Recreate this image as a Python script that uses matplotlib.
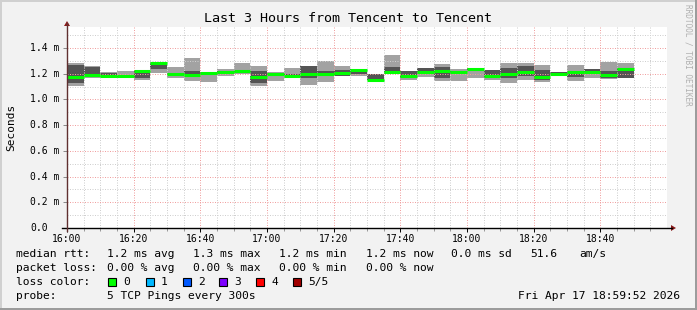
import matplotlib.pyplot as plt
from matplotlib.patches import Rectangle, Polygon
from matplotlib.lines import Line2D

# 5 minute bins, start time of each bin
times = ["16:00", "16:05", "16:10", "16:15", "16:20", "16:25", "16:30", "16:35",
         "16:40", "16:45", "16:50", "16:55", "17:00", "17:05", "17:10", "17:15",
         "17:20", "17:25", "17:30", "17:35", "17:40", "17:45", "17:50", "17:55",
         "18:00", "18:05", "18:10", "18:15", "18:20", "18:25", "18:30", "18:35",
         "18:40", "18:45"]

# median rtt (ms)
median = [1.174, 1.187, 1.184, 1.179, 1.221, 1.283, 1.195, 1.190, 1.205, 1.216,
          1.221, 1.174, 1.195, 1.179, 1.200, 1.195, 1.205, 1.226, 1.148, 1.210,
          1.184, 1.210, 1.221, 1.210, 1.239, 1.179, 1.195, 1.213, 1.174, 1.195,
          1.210, 1.210, 1.190, 1.239]
# smoke: min / max of all pings
smoke_lo = [1.101, 1.169, 1.164, 1.166, 1.148, 1.205, 1.169, 1.143, 1.132, 1.179,
            1.195, 1.101, 1.140, 1.169, 1.112, 1.135, 1.179, 1.184, 1.143, 1.195,
            1.148, 1.174, 1.143, 1.140, 1.164, 1.153, 1.127, 1.148, 1.135, 1.179,
            1.143, 1.164, 1.158, 1.164]
smoke_hi = [1.283, 1.257, 1.210, 1.218, 1.231, 1.288, 1.252, 1.319, 1.210, 1.239,
            1.283, 1.257, 1.210, 1.242, 1.262, 1.296, 1.257, 1.236, 1.195, 1.343,
            1.221, 1.247, 1.273, 1.239, 1.247, 1.231, 1.283, 1.283, 1.265, 1.216,
            1.265, 1.239, 1.288, 1.283]
# inner smoke (2nd to 4th ping)
inner_lo = [1.127, 1.179, 1.179, 1.169, 1.169, 1.234, 1.179, 1.195, 1.200, 1.195,
            1.205, 1.127, 1.184, 1.179, 1.169, 1.184, 1.179, 1.195, 1.153, 1.200,
            1.164, 1.200, 1.164, 1.200, 1.221, 1.164, 1.169, 1.184, 1.153, 1.184,
            1.174, 1.195, 1.169, 1.164]
inner_hi = [1.265, 1.252, 1.205, 1.190, 1.231, 1.283, 1.205, 1.221, 1.210, 1.221,
            1.231, 1.221, 1.205, 1.200, 1.262, 1.221, 1.231, 1.234, 1.195, 1.252,
            1.221, 1.242, 1.252, 1.221, 1.242, 1.226, 1.247, 1.257, 1.226, 1.210,
            1.216, 1.234, 1.221, 1.247]

x_ticks = [0, 20, 40, 60, 80, 100, 120, 140, 160]
x_labels = ["16:00", "16:20", "16:40", "17:00", "17:20", "17:40", "18:00", "18:20", "18:40"]
y_ticks = [0.0, 0.2, 0.4, 0.6, 0.8, 1.0, 1.2, 1.4]
y_labels = ["0.0", "0.2 m", "0.4 m", "0.6 m", "0.8 m", "1.0 m", "1.2 m", "1.4 m"]

loss_labels = ["0", "1", "2", "3", "4", "5/5"]
loss_colors = ["#00ff00", "#00b8ff", "#0059ff", "#7e00ff", "#ff0000", "#a10000"]

W, H = 697, 310
BG = "#f2f2f2"
MONO = "DejaVu Sans Mono"


def px(x, y):
    return x / W, 1 - y / H


def minutes(t):
    h, m = t.split(":")
    return (int(h) - 16) * 60 + int(m)


fig = plt.figure(figsize=(W / 100, H / 100), dpi=100, facecolor=BG)
ax = fig.add_axes([67 / W, 82 / H, 600 / W, 201 / H])
ax.set_facecolor("white")
ax.set_xlim(0, 180)
ax.set_ylim(0, 201 / 128.57)

starts = [minutes(t) for t in times]
outer_h = [h - l for h, l in zip(smoke_hi, smoke_lo)]
inner_h = [h - l for h, l in zip(inner_hi, inner_lo)]
ax.bar(starts, outer_h, bottom=smoke_lo, width=5, align="edge", color="#a2a2a2", zorder=1)
ax.bar(starts, inner_h, bottom=inner_lo, width=5, align="edge", color="#545454", zorder=1.1)
ax.hlines(median, starts, [s + 5 for s in starts], color="#00ff00", lw=2.2, zorder=3)

# grid
for v in range(0, 181, 5):
    c = "#f0a0a0" if v % 20 == 0 else "#cfcfcf"
    ax.axvline(v, color=c, lw=0.72, ls=(0, (1, 1.5)), zorder=2)
for i in range(1, 16):
    v = i * 0.1
    c = "#f0a0a0" if i % 2 == 0 else "#cfcfcf"
    ax.axhline(v, color=c, lw=0.72, ls=(0, (1, 1.5)), zorder=2)

for s in ax.spines.values():
    s.set_visible(False)
ax.set_xticks(x_ticks)
ax.set_xticklabels(x_labels, family=MONO, fontsize=7)
ax.set_xticks(range(0, 180, 5), minor=True)
ax.set_yticks(y_ticks)
ax.set_yticklabels([])
ax.tick_params(axis="x", which="major", length=3, width=0.7, pad=1.5)
ax.tick_params(axis="x", which="minor", length=2, width=0.6, color="#888888")
ax.tick_params(axis="y", which="major", length=3, width=0.7, color="#888888")

for v, lab in zip(y_ticks, y_labels):
    yy = 228 - v * 128.57
    fig.text(*px(30, yy), lab, family=MONO, fontsize=7, ha="left", va="center")

# axis lines with arrows
fig.add_artist(Line2D([62 / W, 672 / W], [1 - 228 / H] * 2, color="black", lw=1.0))
fig.add_artist(Line2D([67 / W] * 2, [1 - 231 / H, 1 - 23 / H], color="#603030", lw=1.0))
fig.add_artist(Polygon([px(671, 225), px(671, 231), px(676, 228)], closed=True, color="#8b1a1a", lw=0))
fig.add_artist(Polygon([px(64, 26), px(70, 26), px(67, 21)], closed=True, color="#8b1a1a", lw=0))

fig.text(*px(348, 19), "Last 3 Hours from Tencent to Tencent", family=MONO, fontsize=9.6,
         ha="center", va="center")
fig.text(*px(11, 127), "Seconds", family=MONO, fontsize=8, rotation=90, ha="center", va="center")
fig.text(*px(688, 4), "RRDTOOL / TOBI OETIKER", family=MONO, fontsize=5.6, rotation=-90,
         ha="center", va="top", color="#b0b0b0")

fs = 8.1
rows = [
    (254, [(16, "median rtt:"), (107, "1.2 ms avg"), (193, "1.3 ms max"), (279, "1.2 ms min"),
           (366, "1.2 ms now"), (451, "0.0 ms sd"), (530, "51.6"), (579, "am/s")]),
    (268, [(16, "packet loss:"), (107, "0.00 % avg"), (193, "0.00 % max"), (279, "0.00 % min"),
           (366, "0.00 % now")]),
    (282, [(16, "loss color:")]),
    (296, [(16, "probe:"), (107, "5 TCP Pings every 300s")]),
]
for y, items in rows:
    for x, s in items:
        fig.text(*px(x, y), s, family=MONO, fontsize=fs, ha="left", va="center")
fig.text(*px(680, 296), "Fri Apr 17 18:59:52 2026", family=MONO, fontsize=fs, ha="right", va="center")

box_x = [108, 146, 183, 219, 256, 293]
for bx, lab, col in zip(box_x, loss_labels, loss_colors):
    x0, y0 = px(bx, 286)
    fig.add_artist(Rectangle((x0, y0), 8 / W, 8 / H, facecolor=col, edgecolor="black", lw=0.8))
    fig.text(*px(bx + 15, 282), lab, family=MONO, fontsize=fs, ha="left", va="center")

# 3d frame
fig.add_artist(Rectangle((0, 1 - 2 / H), 1, 2 / H, color="#d0d0d0", lw=0))
fig.add_artist(Rectangle((0, 0), 2 / W, 1, color="#d0d0d0", lw=0))
fig.add_artist(Rectangle((1 - 2 / W, 0), 2 / W, 1, color="#9c9c9c", lw=0))
fig.add_artist(Rectangle((0, 0), 1, 2 / H, color="#9c9c9c", lw=0))

fig.savefig("out.png", dpi=100, facecolor=BG)
